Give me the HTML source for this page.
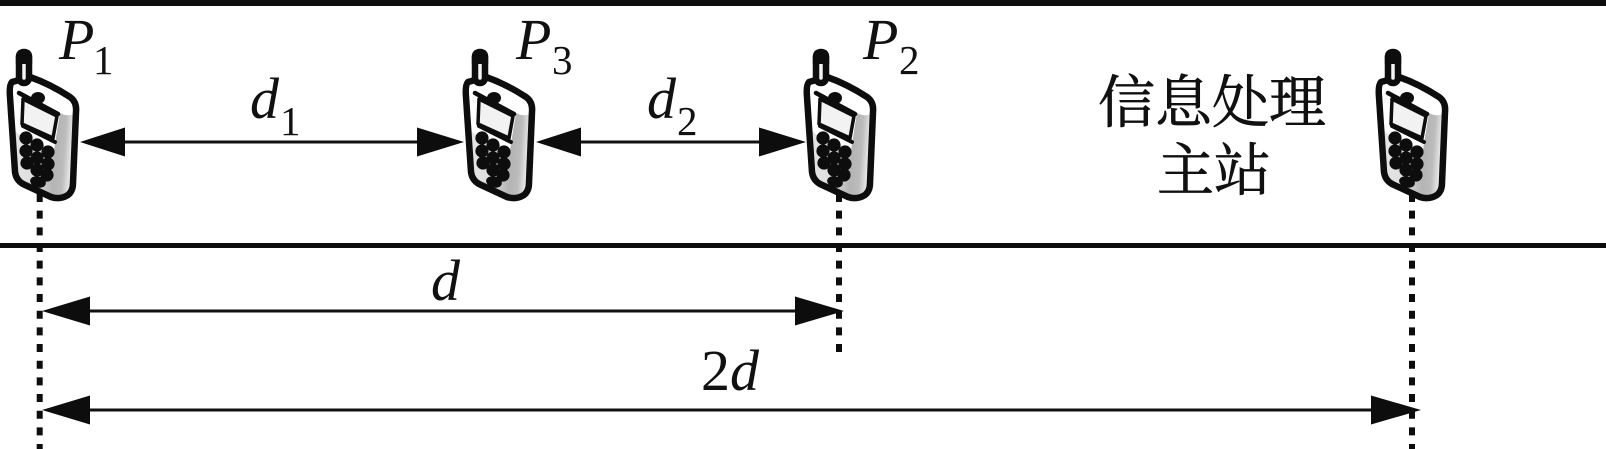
<!DOCTYPE html>
<html><head><meta charset="utf-8"><style>
html,body{margin:0;padding:0;background:#fff;width:1606px;height:449px;overflow:hidden}
svg{display:block}
.i{font-family:"Liberation Serif",serif;font-style:italic;font-size:58px;fill:#111}
.s{font-family:"Liberation Serif",serif;font-size:41px;fill:#111}
.c{font-family:"Liberation Serif","Noto Serif CJK SC",serif;font-size:57px;fill:#111;stroke:#111;stroke-width:.7px}
</style></head><body>
<svg width="1606" height="449" viewBox="0 0 1606 449" xmlns="http://www.w3.org/2000/svg">
<defs>
<linearGradient id="g" x1="0" y1="0" x2="1" y2="0.1">
<stop offset="0" stop-color="#e4e4e4"/><stop offset="0.4" stop-color="#e0e0e0"/><stop offset="0.72" stop-color="#b4b4b4"/><stop offset="0.86" stop-color="#bcbcbc"/><stop offset="1" stop-color="#f0f0f0"/>
</linearGradient>
<g id="ph">
<path d="M12 82 Q9 85 10 97 L15 172 Q16 180 23 184 L51 197 Q60 200 68 195 Q73 191 73 183 L76 112 Q77 102 70 97 Q50 84 30 77 Z" fill="#fff"/>
<path d="M14 130 L16 172 Q17 180 24 184 L51 197 Q60 199 67 194 Q71 190 71 183 L75 112 Q70 118 60 113 L54 150 L20 135 Z" fill="url(#g)"/>
<path d="M12 82 Q9 85 10 97 L15 172 Q16 180 23 184 L51 197 Q60 200 68 195 Q73 191 73 183 L76 112 Q77 102 70 97 Q50 84 30 77 Z" fill="none" stroke="#0d0d0d" stroke-width="6.5" stroke-linejoin="round"/>
<path d="M23 99 L57 116 L53 138 L22 124 Z" fill="#f2f2f2" stroke="#0d0d0d" stroke-width="3.5" stroke-linejoin="round"/>
<path d="M19 93 L58 114" stroke="#0d0d0d" stroke-width="4.5" stroke-linecap="round" fill="none"/>
<path d="M23 126 L55 142" stroke="#0d0d0d" stroke-width="4" stroke-linecap="round" fill="none"/>
<ellipse cx="38" cy="98" rx="7" ry="6" fill="#0d0d0d"/>
<g fill="#0d0d0d">
<circle cx="26" cy="138" r="6.6"/><circle cx="37" cy="145" r="6.6"/><circle cx="48" cy="152" r="6.6"/>
<circle cx="26" cy="151" r="6.6"/><circle cx="37" cy="158" r="6.6"/><circle cx="48" cy="164" r="6.6"/>
<circle cx="27" cy="163" r="6.6"/><circle cx="37" cy="170" r="6.6"/><circle cx="47" cy="175" r="6.6"/>
<ellipse cx="38" cy="182" rx="8" ry="5.5" transform="rotate(15 38 182)"/>
</g>
<rect x="19" y="52" width="10" height="31" rx="5" fill="#f4f4f4" stroke="#0d0d0d" stroke-width="6.5"/>
<path d="M15.8 64 L15.8 57 Q15.8 49 24 49 Q32.2 49 32.2 57 L32.2 64 Z" fill="#0d0d0d"/>
</g>
</defs>

<rect x="0" y="0" width="1606" height="6" fill="#0d0d0d"/>
<rect x="0" y="243" width="1606" height="5" fill="#0d0d0d"/>

<g stroke="#0d0d0d" stroke-width="6" stroke-dasharray="8 8.67" fill="none">
<path d="M39.7 194 V449"/>
<path d="M839 194 V353"/>
<path d="M1412 194 V449"/>
</g>

<use href="#ph" x="0" y="0"/>
<use href="#ph" x="456" y="0"/>
<use href="#ph" x="797" y="0"/>
<use href="#ph" x="1369" y="0"/>

<g stroke="#111" stroke-width="3" fill="none">
<path d="M120 142 H422"/>
<path d="M576 142 H764"/>
<path d="M85 311 H800"/>
<path d="M85 410 H1376"/>
</g>
<g fill="#0d0d0d">
<path d="M80 142 L125 127.5 V156.5 Z"/>
<path d="M464 142 L417 127.5 V156.5 Z"/>
<path d="M536 142 L581 127.5 V156.5 Z"/>
<path d="M806 142 L759 127.5 V156.5 Z"/>
<path d="M42 311 L90 296.5 V325.5 Z"/>
<path d="M844 311 L795 296.5 V325.5 Z"/>
<path d="M42 410 L90 395.5 V424.5 Z"/>
<path d="M1421 410 L1371 395.5 V424.5 Z"/>
</g>

<text class="i" x="59" y="59">P</text><text class="s" x="93" y="74">1</text>
<text class="i" x="516" y="59">P</text><text class="s" x="552" y="74">3</text>
<text class="i" x="863" y="59">P</text><text class="s" x="899" y="74">2</text>
<text class="i" x="250" y="118">d</text><text class="s" x="280" y="135">1</text>
<text class="i" x="647" y="118">d</text><text class="s" x="677" y="135">2</text>
<text class="i" x="431" y="300">d</text>
<text class="s" style="font-size:58px" x="701" y="390">2</text><text class="i" x="730" y="390">d</text>

<text class="c" x="1098" y="122">信息处理</text>
<text class="c" x="1157" y="190">主站</text>
</svg>
</body></html>
